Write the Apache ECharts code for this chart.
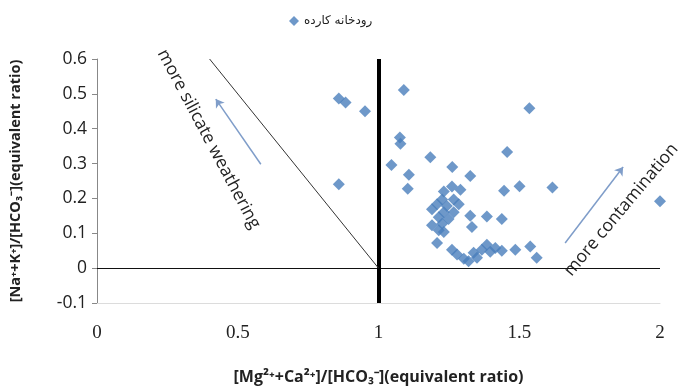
<!DOCTYPE html>
<html>
<head>
<meta charset="utf-8">
<script src="https://cdn.jsdelivr.net/npm/echarts@6/dist/echarts.min.js"></script>
<style>
  html, body { margin: 0; padding: 0; background: #fff; }
  #chart { width: 680px; height: 390px; }
</style>
</head>
<body>
<div id="chart"></div>
<script>
const seriesName = 'رودخانه کارده';

// [Mg+Ca]/[HCO3] values
const ratioX = [
  0.859, 0.883, 0.952, 0.859, 1.090, 1.076, 1.078, 1.046, 1.108, 1.104,
  1.184, 1.262, 1.326, 1.457, 1.536, 1.501, 1.446, 1.618, 2.000,
  1.261, 1.291, 1.232, 1.226, 1.267, 1.208, 1.243, 1.285, 1.190, 1.232,
  1.267, 1.214, 1.249, 1.226, 1.190, 1.214, 1.232, 1.326, 1.385, 1.438,
  1.332, 1.208,
  1.261, 1.279, 1.303, 1.320, 1.338, 1.350, 1.367, 1.385, 1.397, 1.415,
  1.438, 1.486, 1.539, 1.562
];
// [Na+K]/[HCO3] values
const ratioY = [
  0.487, 0.475, 0.450, 0.241, 0.511, 0.375, 0.357, 0.296, 0.268, 0.228,
  0.318, 0.290, 0.264, 0.333, 0.459, 0.235, 0.222, 0.231, 0.192,
  0.234, 0.225, 0.220, 0.197, 0.197, 0.183, 0.178, 0.183, 0.169, 0.160,
  0.160, 0.146, 0.141, 0.127, 0.123, 0.109, 0.104, 0.150, 0.148, 0.141,
  0.118, 0.072,
  0.053, 0.039, 0.027, 0.020, 0.044, 0.030, 0.053, 0.067, 0.047, 0.058,
  0.050, 0.053, 0.062, 0.030
];

const xTicks = { min: 0, max: 2, interval: 0.5 };
const yTicks = { min: -0.1, max: 0.6, interval: 0.1 };

// reference lines and annotations, in data units
const weatheringLine = [[0.4, 0.6], [1, 0]];
const silicateArrow = [[0.582, 0.298], [0.422, 0.485]];
const contaminationArrow = [[1.663, 0.072], [1.869, 0.290]];
const silicateLabel = { text: 'more silicate weathering', at: [0.397, 0.37], angle: -62 };
const contaminationLabel = { text: 'more contamination', at: [1.672, -0.016], angle: 50 };

const points = ratioX.map((x, i) => [x, ratioY[i]]);
const arrowColor = '#7f9dc9';

const myChart = echarts.init(document.getElementById('chart'));

const option = {
  animation: false,
  legend: {
    data: [seriesName],
    left: 284,
    top: 10,
    icon: 'diamond',
    itemWidth: 10,
    itemHeight: 10,
    itemGap: 4,
    textStyle: { fontFamily: 'DejaVu Sans', fontSize: 12, color: '#222' }
  },
  grid: { left: 97, right: 20, top: 59, bottom: 80 },
  xAxis: {
    type: 'value',
    min: xTicks.min,
    max: xTicks.max,
    interval: xTicks.interval,
    name: '[Mg²⁺+Ca²⁺]/[HCO₃⁻](equivalent ratio)',
    nameLocation: 'middle',
    nameGap: 66,
    nameTextStyle: { fontFamily: 'Open Sans', fontWeight: 'bold', fontSize: 16, color: '#222' },
    axisLine: { onZero: false, lineStyle: { color: '#dcdcdc' } },
    axisTick: { show: false },
    splitLine: { show: false },
    axisLabel: { margin: 21, fontFamily: 'Liberation Serif', fontSize: 19, color: '#222' }
  },
  yAxis: {
    type: 'value',
    min: yTicks.min,
    max: yTicks.max,
    interval: yTicks.interval,
    name: '[Na⁺+K⁺]/[HCO₃⁻](equivalent ratio)',
    nameLocation: 'middle',
    nameRotate: 90,
    nameGap: 74,
    nameTextStyle: { fontFamily: 'Open Sans', fontWeight: 'bold', fontSize: 14.5, color: '#222' },
    axisLine: { show: true, lineStyle: { color: '#888' } },
    axisTick: { show: true, inside: false, length: 5, lineStyle: { color: '#888' } },
    splitLine: { show: false },
    axisLabel: {
      margin: 10,
      fontFamily: 'Open Sans',
      fontSize: 17.5,
      color: '#222',
      formatter: (v) => String(Math.round(v * 10) / 10)
    }
  },
  series: [
    {
      name: seriesName,
      type: 'scatter',
      symbol: 'diamond',
      symbolSize: 12,
      itemStyle: { color: '#4a7ebb' },
      data: points,
      z: 5,
      markLine: {
        silent: true,
        symbol: ['none', 'none'],
        label: { show: false },
        data: [
          { yAxis: 0, lineStyle: { color: '#111', width: 1, type: 'solid' } },
          { xAxis: 1, lineStyle: { color: '#000', width: 4, type: 'solid' } },
          [
            { coord: weatheringLine[0], lineStyle: { color: '#333', width: 1, type: 'solid' } },
            { coord: weatheringLine[1] }
          ],
          [
            { coord: silicateArrow[0], symbol: 'none', lineStyle: { color: arrowColor, width: 1.5, type: 'solid' } },
            { coord: silicateArrow[1], symbol: 'arrow', symbolSize: 8 }
          ],
          [
            { coord: contaminationArrow[0], symbol: 'none', lineStyle: { color: arrowColor, width: 1.5, type: 'solid' } },
            { coord: contaminationArrow[1], symbol: 'arrow', symbolSize: 8 }
          ]
        ]
      }
    }
  ]
};

myChart.setOption(option);

// rotated annotation texts, placed from data coordinates
const toPx = (c) => myChart.convertToPixel({ gridIndex: 0 }, c);
const silicatePx = toPx(silicateLabel.at);
const contamPx = toPx(contaminationLabel.at);

myChart.setOption({
  graphic: [
    {
      type: 'text',
      x: silicatePx[0],
      y: silicatePx[1],
      rotation: silicateLabel.angle * Math.PI / 180,
      style: {
        text: silicateLabel.text,
        font: '17.5px "Open Sans"',
        fill: '#222',
        align: 'center',
        verticalAlign: 'middle'
      }
    },
    {
      type: 'text',
      x: contamPx[0],
      y: contamPx[1],
      rotation: contaminationLabel.angle * Math.PI / 180,
      style: {
        text: contaminationLabel.text,
        font: '17.5px "Open Sans"',
        fill: '#222',
        align: 'left',
        verticalAlign: 'middle'
      }
    }
  ]
});

window.addEventListener('resize', () => myChart.resize());
</script>
</body>
</html>
